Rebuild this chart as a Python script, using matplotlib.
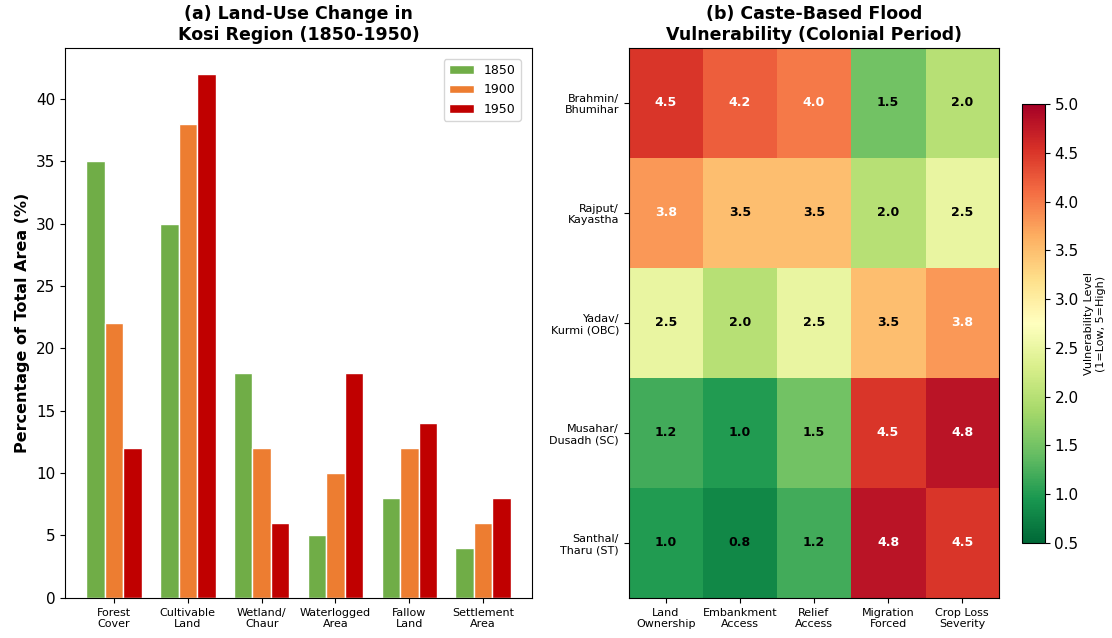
import matplotlib
matplotlib.use("Agg")
import matplotlib.pyplot as plt
import numpy as np

# Land-use shares (% of total area)
land_types = ["Forest\nCover", "Cultivable\nLand", "Wetland/\nChaur",
              "Waterlogged\nArea", "Fallow\nLand", "Settlement\nArea"]
years = ["1850", "1900", "1950"]
share_1850 = [35, 30, 18, 5, 8, 4]
share_1900 = [22, 38, 12, 10, 12, 6]
share_1950 = [12, 42, 6, 18, 14, 8]
year_colors = ["#70ad47", "#ed7d31", "#c00000"]

# Vulnerability scores by caste group
castes = ["Brahmin/\nBhumihar", "Rajput/\nKayastha", "Yadav/\nKurmi (OBC)",
          "Musahar/\nDusadh (SC)", "Santhal/\nTharu (ST)"]
factors = ["Land\nOwnership", "Embankment\nAccess", "Relief\nAccess",
           "Migration\nForced", "Crop Loss\nSeverity"]
vulnerability = np.array([
    [4.5, 4.2, 4.0, 1.5, 2.0],
    [3.8, 3.5, 3.5, 2.0, 2.5],
    [2.5, 2.0, 2.5, 3.5, 3.8],
    [1.2, 1.0, 1.5, 4.5, 4.8],
    [1.0, 0.8, 1.2, 4.8, 4.5],
])

fig = plt.figure(figsize=(11.12, 6.38), dpi=100)
ax1 = fig.add_axes([0.0585, 0.063, 0.42, 0.862])
ax2 = fig.add_axes([0.5655, 0.063, 0.333, 0.862])
cax = fig.add_axes([0.919, 0.149, 0.0205, 0.688])

# (a) grouped bars
x = np.arange(len(land_types))
width = 0.25
for i, (vals, label, color) in enumerate(zip([share_1850, share_1900, share_1950], years, year_colors)):
    ax1.bar(x + (i - 1) * width, vals, width, label=label, color=color,
            edgecolor="white", linewidth=1)
ax1.set_xticks(x)
ax1.set_xticklabels(land_types, fontsize=8)
ax1.tick_params(axis="y", labelsize=11)
ax1.set_ylabel("Percentage of Total Area (%)", fontsize=11.5, fontweight="bold")
ax1.set_title("(a) Land-Use Change in\nKosi Region (1850-1950)", fontsize=12.5, fontweight="bold")
ax1.legend(fontsize=9, borderaxespad=0.9)

# (b) heatmap
im = ax2.imshow(vulnerability, cmap="RdYlGn_r", vmin=0.5, vmax=5.0, aspect="auto")
ax2.set_xticks(np.arange(len(factors)))
ax2.set_xticklabels(factors, fontsize=8)
ax2.set_yticks(np.arange(len(castes)))
ax2.set_yticklabels(castes, fontsize=8)
ax2.set_title("(b) Caste-Based Flood\nVulnerability (Colonial Period)", fontsize=12.5, fontweight="bold")
for i in range(vulnerability.shape[0]):
    for j in range(vulnerability.shape[1]):
        v = vulnerability[i, j]
        color = "white" if v > 3.5 else "black"
        ax2.text(j, i, f"{v:.1f}", ha="center", va="center", color=color,
                 fontsize=9, fontweight="bold")

cbar = fig.colorbar(im, cax=cax)
cbar.ax.tick_params(labelsize=11)
cbar.set_label("Vulnerability Level\n(1=Low, 5=High)", fontsize=8)

fig.savefig("out.png", dpi=100)
